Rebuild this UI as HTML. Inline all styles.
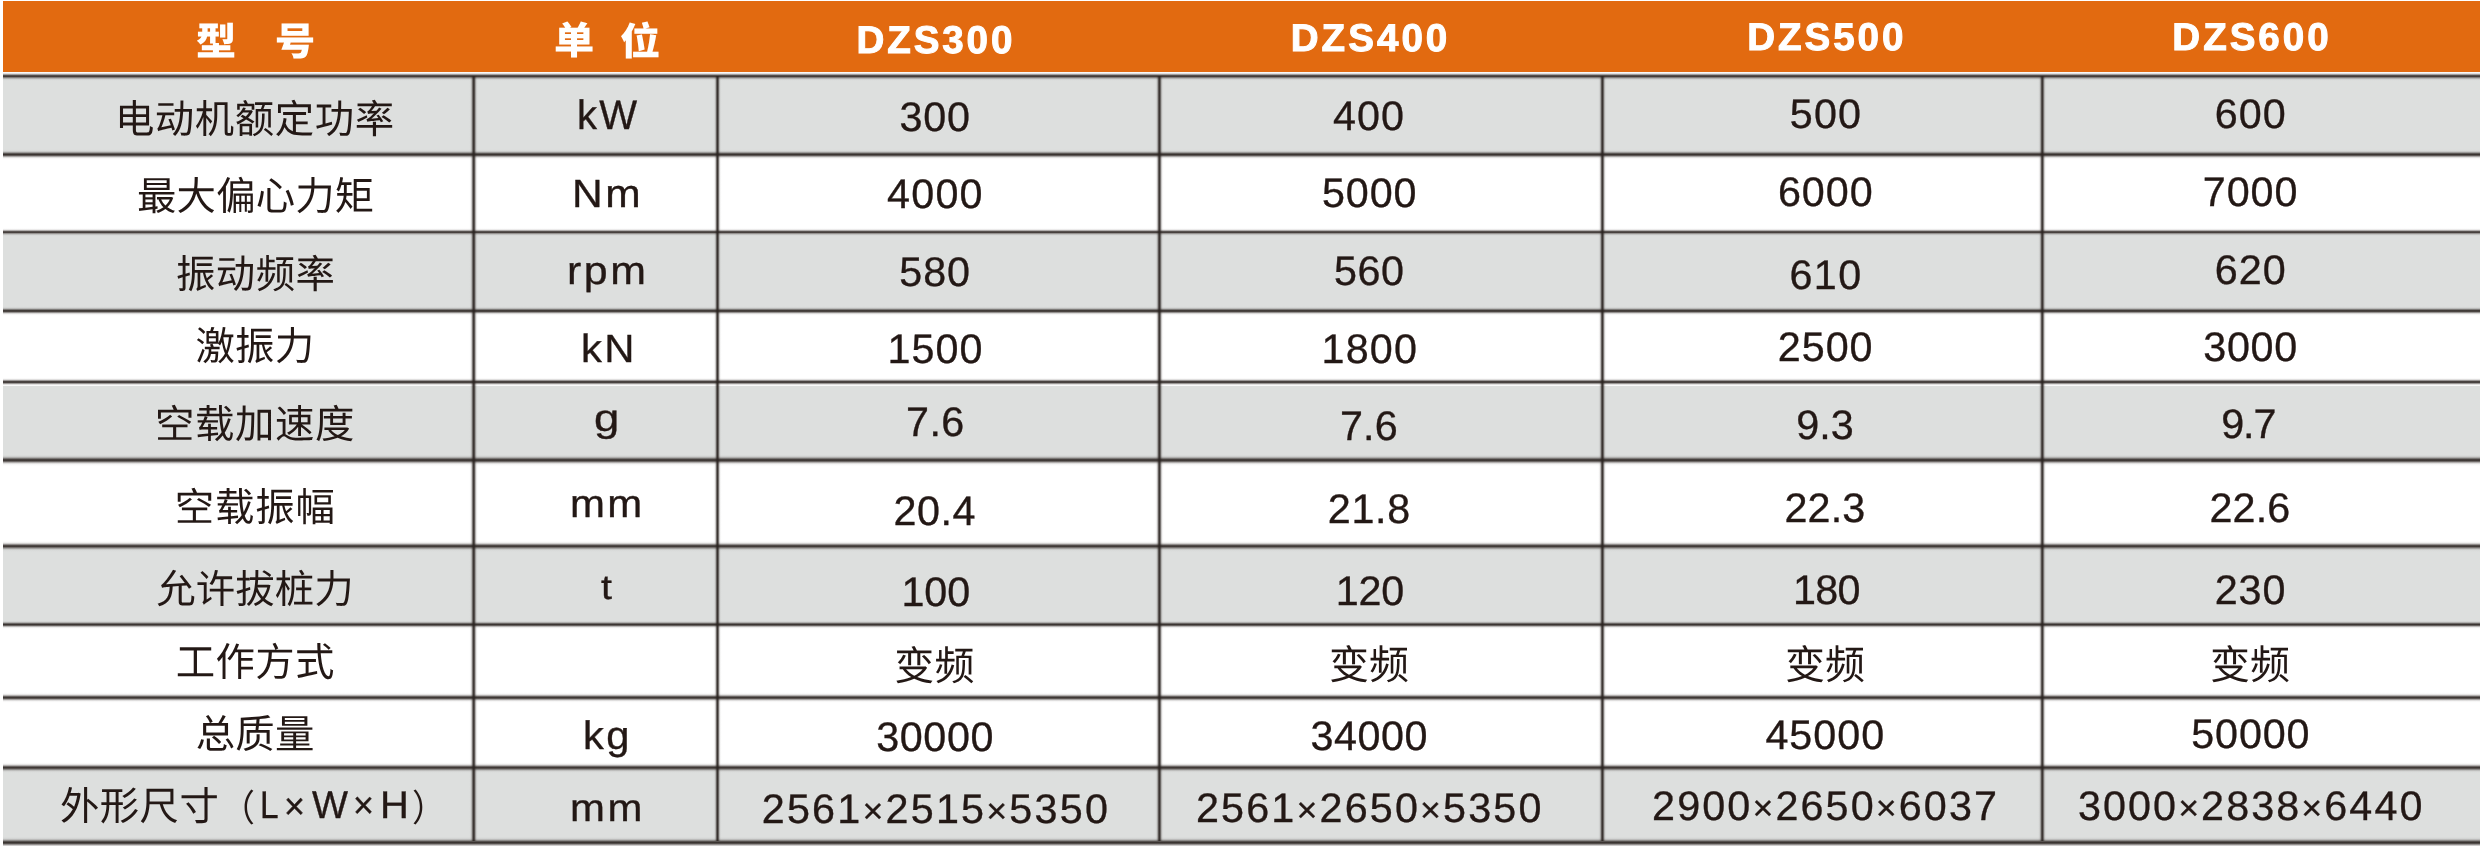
<!DOCTYPE html>
<html lang="zh-CN">
<head>
<meta charset="utf-8">
<style>
html,body{margin:0;padding:0;background:#fff;}
body{width:2480px;height:846px;position:relative;overflow:hidden;}
#tbl{position:absolute;left:0;top:0;width:2480px;height:846px;overflow:hidden;background:#fff;will-change:transform;}
.bg{position:absolute;left:3px;right:0;}
.hd{top:1px;height:70.8px;background:#e26a10;}
.gr{background:#dddfde;}
.hl{position:absolute;left:3px;right:0;}
.vl{position:absolute;top:75.5px;height:765.5px;}
.t{position:absolute;white-space:nowrap;line-height:1;color:#231815;text-rendering:geometricPrecision;-webkit-font-smoothing:antialiased;margin:0;padding:0;}
.c{font-family:"Liberation Sans","Noto Sans CJK SC",sans-serif;font-weight:400;}
.l{font-family:"Liberation Sans","Noto Sans CJK SC",sans-serif;font-weight:400;-webkit-text-stroke:0.35px #231815;}
.hc{font-family:"Liberation Sans","Noto Sans CJK SC",sans-serif;font-weight:900;color:#fff;}
.hl2{font-family:"Liberation Sans","Noto Sans CJK SC",sans-serif;font-weight:700;color:#fff;-webkit-text-stroke:1px #fff;}
.x{font-size:.865em;}
</style>
</head>
<body>
<div id="tbl">
<div class="bg hd"></div>
<div class="bg gr" style="top:77.70px;height:76.86px"></div>
<div class="bg gr" style="top:233.65px;height:77.31px"></div>
<div class="bg gr" style="top:385.80px;height:74.40px"></div>
<div class="bg gr" style="top:547.70px;height:76.90px"></div>
<div class="bg gr" style="top:769.15px;height:73.45px"></div>
<div class="hl" style="top:71px;height:11px;background:linear-gradient(to bottom,rgba(42,35,32,0.000) 0.20px,rgba(42,35,32,0.005) 0.70px,rgba(42,35,32,0.014) 1.20px,rgba(42,35,32,0.038) 1.70px,rgba(42,35,32,0.089) 2.20px,rgba(42,35,32,0.182) 2.70px,rgba(42,35,32,0.326) 3.20px,rgba(42,35,32,0.513) 3.70px,rgba(42,35,32,0.710) 4.20px,rgba(42,35,32,0.862) 4.70px,rgba(42,35,32,0.920) 5.20px,rgba(42,35,32,0.862) 5.70px,rgba(42,35,32,0.710) 6.20px,rgba(42,35,32,0.513) 6.70px,rgba(42,35,32,0.326) 7.20px,rgba(42,35,32,0.182) 7.70px,rgba(42,35,32,0.089) 8.20px,rgba(42,35,32,0.038) 8.70px,rgba(42,35,32,0.014) 9.20px,rgba(42,35,32,0.005) 9.70px,rgba(42,35,32,0.000) 10.20px)"></div>
<div class="hl" style="top:149px;height:11px;background:linear-gradient(to bottom,rgba(42,35,32,0.004) 0.56px,rgba(42,35,32,0.011) 1.06px,rgba(42,35,32,0.029) 1.56px,rgba(42,35,32,0.064) 2.06px,rgba(42,35,32,0.130) 2.56px,rgba(42,35,32,0.237) 3.06px,rgba(42,35,32,0.386) 3.56px,rgba(42,35,32,0.565) 4.06px,rgba(42,35,32,0.740) 4.56px,rgba(42,35,32,0.871) 5.06px,rgba(42,35,32,0.920) 5.56px,rgba(42,35,32,0.871) 6.06px,rgba(42,35,32,0.740) 6.56px,rgba(42,35,32,0.565) 7.06px,rgba(42,35,32,0.386) 7.56px,rgba(42,35,32,0.237) 8.06px,rgba(42,35,32,0.130) 8.56px,rgba(42,35,32,0.064) 9.06px,rgba(42,35,32,0.029) 9.56px,rgba(42,35,32,0.011) 10.06px,rgba(42,35,32,0.004) 10.56px)"></div>
<div class="hl" style="top:227px;height:11px;background:linear-gradient(to bottom,rgba(42,35,32,0.000) 0.15px,rgba(42,35,32,0.000) 0.65px,rgba(42,35,32,0.004) 1.15px,rgba(42,35,32,0.014) 1.65px,rgba(42,35,32,0.043) 2.15px,rgba(42,35,32,0.110) 2.65px,rgba(42,35,32,0.237) 3.15px,rgba(42,35,32,0.429) 3.65px,rgba(42,35,32,0.655) 4.15px,rgba(42,35,32,0.845) 4.65px,rgba(42,35,32,0.920) 5.15px,rgba(42,35,32,0.845) 5.65px,rgba(42,35,32,0.655) 6.15px,rgba(42,35,32,0.429) 6.65px,rgba(42,35,32,0.237) 7.15px,rgba(42,35,32,0.110) 7.65px,rgba(42,35,32,0.043) 8.15px,rgba(42,35,32,0.014) 8.65px,rgba(42,35,32,0.004) 9.15px,rgba(42,35,32,0.000) 9.65px,rgba(42,35,32,0.000) 10.15px)"></div>
<div class="hl" style="top:305px;height:11px;background:linear-gradient(to bottom,rgba(42,35,32,0.000) 0.96px,rgba(42,35,32,0.005) 1.46px,rgba(42,35,32,0.014) 1.96px,rgba(42,35,32,0.038) 2.46px,rgba(42,35,32,0.089) 2.96px,rgba(42,35,32,0.182) 3.46px,rgba(42,35,32,0.326) 3.96px,rgba(42,35,32,0.513) 4.46px,rgba(42,35,32,0.710) 4.96px,rgba(42,35,32,0.862) 5.46px,rgba(42,35,32,0.920) 5.96px,rgba(42,35,32,0.862) 6.46px,rgba(42,35,32,0.710) 6.96px,rgba(42,35,32,0.513) 7.46px,rgba(42,35,32,0.326) 7.96px,rgba(42,35,32,0.182) 8.46px,rgba(42,35,32,0.089) 8.96px,rgba(42,35,32,0.038) 9.46px,rgba(42,35,32,0.014) 9.96px,rgba(42,35,32,0.005) 10.46px,rgba(42,35,32,0.000) 10.96px)"></div>
<div class="hl" style="top:377px;height:11px;background:linear-gradient(to bottom,rgba(42,35,32,0.000) 0.00px,rgba(42,35,32,0.000) 0.50px,rgba(42,35,32,0.008) 1.00px,rgba(42,35,32,0.025) 1.50px,rgba(42,35,32,0.064) 2.00px,rgba(42,35,32,0.145) 2.50px,rgba(42,35,32,0.282) 3.00px,rgba(42,35,32,0.473) 3.50px,rgba(42,35,32,0.685) 4.00px,rgba(42,35,32,0.854) 4.50px,rgba(42,35,32,0.920) 5.00px,rgba(42,35,32,0.854) 5.50px,rgba(42,35,32,0.685) 6.00px,rgba(42,35,32,0.473) 6.50px,rgba(42,35,32,0.282) 7.00px,rgba(42,35,32,0.145) 7.50px,rgba(42,35,32,0.064) 8.00px,rgba(42,35,32,0.025) 8.50px,rgba(42,35,32,0.008) 9.00px,rgba(42,35,32,0.000) 9.50px,rgba(42,35,32,0.000) 10.00px)"></div>
<div class="hl" style="top:455px;height:11px;background:linear-gradient(to bottom,rgba(42,35,32,0.012) 0.20px,rgba(42,35,32,0.027) 0.70px,rgba(42,35,32,0.056) 1.20px,rgba(42,35,32,0.108) 1.70px,rgba(42,35,32,0.191) 2.20px,rgba(42,35,32,0.309) 2.70px,rgba(42,35,32,0.457) 3.20px,rgba(42,35,32,0.621) 3.70px,rgba(42,35,32,0.772) 4.20px,rgba(42,35,32,0.881) 4.70px,rgba(42,35,32,0.920) 5.20px,rgba(42,35,32,0.881) 5.70px,rgba(42,35,32,0.772) 6.20px,rgba(42,35,32,0.621) 6.70px,rgba(42,35,32,0.457) 7.20px,rgba(42,35,32,0.309) 7.70px,rgba(42,35,32,0.191) 8.20px,rgba(42,35,32,0.108) 8.70px,rgba(42,35,32,0.056) 9.20px,rgba(42,35,32,0.027) 9.70px,rgba(42,35,32,0.012) 10.20px)"></div>
<div class="hl" style="top:541px;height:11px;background:linear-gradient(to bottom,rgba(42,35,32,0.006) 0.20px,rgba(42,35,32,0.016) 0.70px,rgba(42,35,32,0.038) 1.20px,rgba(42,35,32,0.080) 1.70px,rgba(42,35,32,0.153) 2.20px,rgba(42,35,32,0.264) 2.70px,rgba(42,35,32,0.414) 3.20px,rgba(42,35,32,0.587) 3.70px,rgba(42,35,32,0.754) 4.20px,rgba(42,35,32,0.875) 4.70px,rgba(42,35,32,0.920) 5.20px,rgba(42,35,32,0.875) 5.70px,rgba(42,35,32,0.754) 6.20px,rgba(42,35,32,0.587) 6.70px,rgba(42,35,32,0.414) 7.20px,rgba(42,35,32,0.264) 7.70px,rgba(42,35,32,0.153) 8.20px,rgba(42,35,32,0.080) 8.70px,rgba(42,35,32,0.038) 9.20px,rgba(42,35,32,0.016) 9.70px,rgba(42,35,32,0.006) 10.20px)"></div>
<div class="hl" style="top:619px;height:11px;background:linear-gradient(to bottom,rgba(42,35,32,0.000) 0.60px,rgba(42,35,32,0.000) 1.10px,rgba(42,35,32,0.008) 1.60px,rgba(42,35,32,0.025) 2.10px,rgba(42,35,32,0.064) 2.60px,rgba(42,35,32,0.145) 3.10px,rgba(42,35,32,0.282) 3.60px,rgba(42,35,32,0.473) 4.10px,rgba(42,35,32,0.685) 4.60px,rgba(42,35,32,0.854) 5.10px,rgba(42,35,32,0.920) 5.60px,rgba(42,35,32,0.854) 6.10px,rgba(42,35,32,0.685) 6.60px,rgba(42,35,32,0.473) 7.10px,rgba(42,35,32,0.282) 7.60px,rgba(42,35,32,0.145) 8.10px,rgba(42,35,32,0.064) 8.60px,rgba(42,35,32,0.025) 9.10px,rgba(42,35,32,0.008) 9.60px,rgba(42,35,32,0.000) 10.10px,rgba(42,35,32,0.000) 10.60px)"></div>
<div class="hl" style="top:692px;height:11px;background:linear-gradient(to bottom,rgba(42,35,32,0.004) 0.60px,rgba(42,35,32,0.011) 1.10px,rgba(42,35,32,0.029) 1.60px,rgba(42,35,32,0.064) 2.10px,rgba(42,35,32,0.130) 2.60px,rgba(42,35,32,0.237) 3.10px,rgba(42,35,32,0.386) 3.60px,rgba(42,35,32,0.565) 4.10px,rgba(42,35,32,0.740) 4.60px,rgba(42,35,32,0.871) 5.10px,rgba(42,35,32,0.920) 5.60px,rgba(42,35,32,0.871) 6.10px,rgba(42,35,32,0.740) 6.60px,rgba(42,35,32,0.565) 7.10px,rgba(42,35,32,0.386) 7.60px,rgba(42,35,32,0.237) 8.10px,rgba(42,35,32,0.130) 8.60px,rgba(42,35,32,0.064) 9.10px,rgba(42,35,32,0.029) 9.60px,rgba(42,35,32,0.011) 10.10px,rgba(42,35,32,0.004) 10.60px)"></div>
<div class="hl" style="top:762px;height:11px;background:linear-gradient(to bottom,rgba(42,35,32,0.005) 0.65px,rgba(42,35,32,0.014) 1.15px,rgba(42,35,32,0.035) 1.65px,rgba(42,35,32,0.075) 2.15px,rgba(42,35,32,0.145) 2.65px,rgba(42,35,32,0.255) 3.15px,rgba(42,35,32,0.405) 3.65px,rgba(42,35,32,0.580) 4.15px,rgba(42,35,32,0.749) 4.65px,rgba(42,35,32,0.874) 5.15px,rgba(42,35,32,0.920) 5.65px,rgba(42,35,32,0.874) 6.15px,rgba(42,35,32,0.749) 6.65px,rgba(42,35,32,0.580) 7.15px,rgba(42,35,32,0.405) 7.65px,rgba(42,35,32,0.255) 8.15px,rgba(42,35,32,0.145) 8.65px,rgba(42,35,32,0.075) 9.15px,rgba(42,35,32,0.035) 9.65px,rgba(42,35,32,0.014) 10.15px,rgba(42,35,32,0.005) 10.65px)"></div>
<div class="hl" style="top:837px;height:9px;background:linear-gradient(to bottom,rgba(42,35,32,0.014) 0.60px,rgba(42,35,32,0.032) 1.10px,rgba(42,35,32,0.064) 1.60px,rgba(42,35,32,0.120) 2.10px,rgba(42,35,32,0.206) 2.60px,rgba(42,35,32,0.326) 3.10px,rgba(42,35,32,0.473) 3.60px,rgba(42,35,32,0.633) 4.10px,rgba(42,35,32,0.779) 4.60px,rgba(42,35,32,0.883) 5.10px,rgba(42,35,32,0.920) 5.60px,rgba(42,35,32,0.883) 6.10px,rgba(42,35,32,0.779) 6.60px,rgba(42,35,32,0.633) 7.10px,rgba(42,35,32,0.473) 7.60px,rgba(42,35,32,0.326) 8.10px,rgba(42,35,32,0.206) 8.60px)"></div>
<div class="vl" style="left:468px;width:11px;background:linear-gradient(to right,rgba(42,35,32,0.000) 0.70px,rgba(42,35,32,0.000) 1.20px,rgba(42,35,32,0.008) 1.70px,rgba(42,35,32,0.025) 2.20px,rgba(42,35,32,0.064) 2.70px,rgba(42,35,32,0.145) 3.20px,rgba(42,35,32,0.282) 3.70px,rgba(42,35,32,0.473) 4.20px,rgba(42,35,32,0.685) 4.70px,rgba(42,35,32,0.854) 5.20px,rgba(42,35,32,0.920) 5.70px,rgba(42,35,32,0.854) 6.20px,rgba(42,35,32,0.685) 6.70px,rgba(42,35,32,0.473) 7.20px,rgba(42,35,32,0.282) 7.70px,rgba(42,35,32,0.145) 8.20px,rgba(42,35,32,0.064) 8.70px,rgba(42,35,32,0.025) 9.20px,rgba(42,35,32,0.008) 9.70px,rgba(42,35,32,0.000) 10.20px,rgba(42,35,32,0.000) 10.70px)"></div>
<div class="vl" style="left:712px;width:11px;background:linear-gradient(to right,rgba(42,35,32,0.000) 0.50px,rgba(42,35,32,0.000) 1.00px,rgba(42,35,32,0.004) 1.50px,rgba(42,35,32,0.014) 2.00px,rgba(42,35,32,0.043) 2.50px,rgba(42,35,32,0.110) 3.00px,rgba(42,35,32,0.237) 3.50px,rgba(42,35,32,0.429) 4.00px,rgba(42,35,32,0.655) 4.50px,rgba(42,35,32,0.845) 5.00px,rgba(42,35,32,0.920) 5.50px,rgba(42,35,32,0.845) 6.00px,rgba(42,35,32,0.655) 6.50px,rgba(42,35,32,0.429) 7.00px,rgba(42,35,32,0.237) 7.50px,rgba(42,35,32,0.110) 8.00px,rgba(42,35,32,0.043) 8.50px,rgba(42,35,32,0.014) 9.00px,rgba(42,35,32,0.004) 9.50px,rgba(42,35,32,0.000) 10.00px,rgba(42,35,32,0.000) 10.50px)"></div>
<div class="vl" style="left:1154px;width:11px;background:linear-gradient(to right,rgba(42,35,32,0.000) 0.40px,rgba(42,35,32,0.000) 0.90px,rgba(42,35,32,0.007) 1.40px,rgba(42,35,32,0.022) 1.90px,rgba(42,35,32,0.059) 2.40px,rgba(42,35,32,0.136) 2.90px,rgba(42,35,32,0.271) 3.40px,rgba(42,35,32,0.463) 3.90px,rgba(42,35,32,0.678) 4.40px,rgba(42,35,32,0.852) 4.90px,rgba(42,35,32,0.920) 5.40px,rgba(42,35,32,0.852) 5.90px,rgba(42,35,32,0.678) 6.40px,rgba(42,35,32,0.463) 6.90px,rgba(42,35,32,0.271) 7.40px,rgba(42,35,32,0.136) 7.90px,rgba(42,35,32,0.059) 8.40px,rgba(42,35,32,0.022) 8.90px,rgba(42,35,32,0.007) 9.40px,rgba(42,35,32,0.000) 9.90px,rgba(42,35,32,0.000) 10.40px)"></div>
<div class="vl" style="left:1597px;width:11px;background:linear-gradient(to right,rgba(42,35,32,0.000) 0.40px,rgba(42,35,32,0.000) 0.90px,rgba(42,35,32,0.006) 1.40px,rgba(42,35,32,0.019) 1.90px,rgba(42,35,32,0.053) 2.40px,rgba(42,35,32,0.128) 2.90px,rgba(42,35,32,0.260) 3.40px,rgba(42,35,32,0.452) 3.90px,rgba(42,35,32,0.671) 4.40px,rgba(42,35,32,0.850) 4.90px,rgba(42,35,32,0.920) 5.40px,rgba(42,35,32,0.850) 5.90px,rgba(42,35,32,0.671) 6.40px,rgba(42,35,32,0.452) 6.90px,rgba(42,35,32,0.260) 7.40px,rgba(42,35,32,0.128) 7.90px,rgba(42,35,32,0.053) 8.40px,rgba(42,35,32,0.019) 8.90px,rgba(42,35,32,0.006) 9.40px,rgba(42,35,32,0.000) 9.90px,rgba(42,35,32,0.000) 10.40px)"></div>
<div class="vl" style="left:2037px;width:11px;background:linear-gradient(to right,rgba(42,35,32,0.000) 0.30px,rgba(42,35,32,0.000) 0.80px,rgba(42,35,32,0.006) 1.30px,rgba(42,35,32,0.019) 1.80px,rgba(42,35,32,0.053) 2.30px,rgba(42,35,32,0.128) 2.80px,rgba(42,35,32,0.260) 3.30px,rgba(42,35,32,0.452) 3.80px,rgba(42,35,32,0.671) 4.30px,rgba(42,35,32,0.850) 4.80px,rgba(42,35,32,0.920) 5.30px,rgba(42,35,32,0.850) 5.80px,rgba(42,35,32,0.671) 6.30px,rgba(42,35,32,0.452) 6.80px,rgba(42,35,32,0.260) 7.30px,rgba(42,35,32,0.128) 7.80px,rgba(42,35,32,0.053) 8.30px,rgba(42,35,32,0.019) 8.80px,rgba(42,35,32,0.006) 9.30px,rgba(42,35,32,0.000) 9.80px,rgba(42,35,32,0.000) 10.30px)"></div>
<div class="row" id="row-h">
<div class="cell"><div id="h1a" class="t hc" style="left:196.35px;top:24.00px;font-size:38.30px;transform:scaleX(1.0500);transform-origin:0 0;">型</div> <div id="h1b" class="t hc" style="left:275.20px;top:24.00px;font-size:38.30px;transform:scaleX(1.0500);transform-origin:0 0;">号</div></div>
<div class="cell"><div id="h2a" class="t hc" style="left:553.94px;top:23.00px;font-size:38.30px;transform:scaleX(1.0500);transform-origin:0 0;">单</div> <div id="h2b" class="t hc" style="left:620.23px;top:24.00px;font-size:38.30px;transform:scaleX(1.0500);transform-origin:0 0;">位</div></div>
<div id="h3" class="t hl2" style="left:856.61px;top:22.00px;font-size:38.60px;letter-spacing:2.84px;">DZS300</div>
<div id="h4" class="t hl2" style="left:1290.69px;top:20.00px;font-size:38.60px;letter-spacing:3.02px;">DZS400</div>
<div id="h5" class="t hl2" style="left:1747.13px;top:19.00px;font-size:38.60px;letter-spacing:2.96px;">DZS500</div>
<div id="h6" class="t hl2" style="left:2172.37px;top:19.00px;font-size:38.60px;letter-spacing:2.95px;">DZS600</div>
</div>
<div class="row" id="row-r1">
<div id="r1c1" class="t c" style="left:114.89px;top:101.00px;font-size:39.40px;letter-spacing:0.58px;">电动机额定功率</div>
<div id="r1c2" class="t l" style="left:577.30px;top:95.00px;font-size:41.06px;letter-spacing:2.30px;transform:scaleX(0.9754);transform-origin:0 0;">kW</div>
<div id="r1c3" class="t l" style="left:899.40px;top:97.00px;font-size:41.30px;letter-spacing:0.87px;">300</div>
<div id="r1c4" class="t l" style="left:1333.02px;top:96.00px;font-size:41.30px;letter-spacing:1.05px;">400</div>
<div id="r1c5" class="t l" style="left:1789.74px;top:94.00px;font-size:41.30px;letter-spacing:1.20px;">500</div>
<div id="r1c6" class="t l" style="left:2214.76px;top:94.00px;font-size:41.30px;letter-spacing:1.01px;">600</div>
</div>
<div class="row" id="row-r2">
<div id="r2c1" class="t c" style="left:136.97px;top:178.00px;font-size:39.40px;letter-spacing:0.19px;">最大偏心力矩</div>
<div id="r2c2" class="t l" style="left:572.49px;top:175.00px;font-size:39.29px;letter-spacing:2.30px;transform:scaleX(1.0809);transform-origin:0 0;">Nm</div>
<div id="r2c3" class="t l" style="left:887.08px;top:174.00px;font-size:41.30px;letter-spacing:1.21px;">4000</div>
<div id="r2c4" class="t l" style="left:1321.99px;top:173.00px;font-size:41.30px;letter-spacing:0.88px;">5000</div>
<div id="r2c5" class="t l" style="left:1777.91px;top:172.00px;font-size:41.30px;letter-spacing:0.97px;">6000</div>
<div id="r2c6" class="t l" style="left:2202.83px;top:172.00px;font-size:41.30px;letter-spacing:0.90px;">7000</div>
</div>
<div class="row" id="row-r3">
<div id="r3c1" class="t c" style="left:175.94px;top:256.00px;font-size:39.40px;letter-spacing:0.46px;">振动频率</div>
<div id="r3c2" class="t l" style="left:567.05px;top:252.00px;font-size:39.33px;letter-spacing:2.30px;transform:scaleX(1.0902);transform-origin:0 0;">rpm</div>
<div id="r3c3" class="t l" style="left:899.26px;top:252.00px;font-size:41.30px;letter-spacing:0.91px;">580</div>
<div id="r3c4" class="t l" style="left:1334.12px;top:251.00px;font-size:41.30px;letter-spacing:0.51px;">560</div>
<div id="r3c5" class="t l" style="left:1789.58px;top:255.00px;font-size:41.30px;letter-spacing:1.31px;">610</div>
<div id="r3c6" class="t l" style="left:2214.76px;top:250.00px;font-size:41.30px;letter-spacing:1.01px;">620</div>
</div>
<div class="row" id="row-r4">
<div id="r4c1" class="t c" style="left:195.44px;top:328.00px;font-size:39.40px;letter-spacing:0.21px;">激振力</div>
<div id="r4c2" class="t l" style="left:580.94px;top:330.00px;font-size:39.29px;letter-spacing:2.30px;transform:scaleX(1.0643);transform-origin:0 0;">kN</div>
<div id="r4c3" class="t l" style="left:887.46px;top:329.00px;font-size:41.30px;letter-spacing:1.02px;">1500</div>
<div id="r4c4" class="t l" style="left:1321.60px;top:329.00px;font-size:41.30px;letter-spacing:1.16px;">1800</div>
<div id="r4c5" class="t l" style="left:1777.84px;top:327.00px;font-size:41.30px;letter-spacing:0.96px;">2500</div>
<div id="r4c6" class="t l" style="left:2203.25px;top:327.00px;font-size:41.30px;letter-spacing:0.67px;">3000</div>
</div>
<div class="row" id="row-r5">
<div id="r5c1" class="t c" style="left:154.93px;top:406.00px;font-size:39.40px;letter-spacing:0.66px;">空载加速度</div>
<div id="r5c2" class="t l" style="left:593.88px;top:400.00px;font-size:38.40px;transform:scaleX(1.1847);transform-origin:0 0;">g</div>
<div id="r5c3" class="t l" style="left:905.97px;top:402.00px;font-size:41.30px;letter-spacing:0.44px;">7.6</div>
<div id="r5c4" class="t l" style="left:1339.98px;top:406.00px;font-size:41.30px;letter-spacing:0.13px;">7.6</div>
<div id="r5c5" class="t l" style="left:1796.14px;top:405.00px;font-size:41.30px;letter-spacing:0.15px;">9.3</div>
<div id="r5c6" class="t l" style="left:2221.26px;top:404.00px;font-size:41.30px;letter-spacing:-1.11px;">9.7</div>
</div>
<div class="row" id="row-r6">
<div id="r6c1" class="t c" style="left:174.81px;top:489.00px;font-size:39.40px;letter-spacing:0.82px;">空载振幅</div>
<div id="r6c2" class="t l" style="left:570.09px;top:485.00px;font-size:39.28px;letter-spacing:2.30px;transform:scaleX(1.0674);transform-origin:0 0;">mm</div>
<div id="r6c3" class="t l" style="left:893.55px;top:491.00px;font-size:41.30px;letter-spacing:0.54px;">20.4</div>
<div id="r6c4" class="t l" style="left:1327.75px;top:489.00px;font-size:41.30px;letter-spacing:0.71px;">21.8</div>
<div id="r6c5" class="t l" style="left:1784.53px;top:488.00px;font-size:41.30px;letter-spacing:0.14px;">22.3</div>
<div id="r6c6" class="t l" style="left:2209.52px;top:488.00px;font-size:41.30px;letter-spacing:0.13px;">22.6</div>
</div>
<div class="row" id="row-r7">
<div id="r7c1" class="t c" style="left:156.18px;top:571.00px;font-size:39.40px;letter-spacing:0.13px;">允许拔桩力</div>
<div id="r7c2" class="t l" style="left:601.07px;top:571.00px;font-size:34.60px;transform:scaleX(1.1419);transform-origin:0 0;">t</div>
<div id="r7c3" class="t l" style="left:901.42px;top:572.00px;font-size:41.30px;letter-spacing:-0.09px;">100</div>
<div id="r7c4" class="t l" style="left:1335.78px;top:571.00px;font-size:41.30px;letter-spacing:-0.26px;">120</div>
<div id="r7c5" class="t l" style="left:1792.91px;top:570.00px;font-size:41.30px;letter-spacing:-0.70px;">180</div>
<div id="r7c6" class="t l" style="left:2214.64px;top:570.00px;font-size:41.30px;letter-spacing:1.02px;">230</div>
</div>
<div class="row" id="row-r8">
<div id="r8c1" class="t c" style="left:175.79px;top:644.00px;font-size:39.40px;letter-spacing:0.36px;">工作方式</div>
<div id="r8c3" class="t c" style="left:894.33px;top:647.00px;font-size:40.00px;letter-spacing:0.09px;">变频</div>
<div id="r8c4" class="t c" style="left:1328.93px;top:646.00px;font-size:40.00px;letter-spacing:-0.03px;">变频</div>
<div id="r8c5" class="t c" style="left:1784.99px;top:646.00px;font-size:40.00px;letter-spacing:0.08px;">变频</div>
<div id="r8c6" class="t c" style="left:2209.88px;top:646.00px;font-size:40.00px;letter-spacing:0.20px;">变频</div>
</div>
<div class="row" id="row-r9">
<div id="r9c1" class="t c" style="left:195.81px;top:716.00px;font-size:39.40px;letter-spacing:0.18px;">总质量</div>
<div id="r9c2" class="t l" style="left:582.73px;top:717.00px;font-size:39.61px;letter-spacing:2.30px;transform:scaleX(1.0536);transform-origin:0 0;">kg</div>
<div id="r9c3" class="t l" style="left:876.16px;top:717.00px;font-size:41.30px;letter-spacing:0.63px;">30000</div>
<div id="r9c4" class="t l" style="left:1310.39px;top:716.00px;font-size:41.30px;letter-spacing:0.58px;">34000</div>
<div id="r9c5" class="t l" style="left:1765.42px;top:715.00px;font-size:41.30px;letter-spacing:0.99px;">45000</div>
<div id="r9c6" class="t l" style="left:2191.29px;top:714.00px;font-size:41.30px;letter-spacing:0.85px;">50000</div>
</div>
<div class="row" id="row-r10">
<div class="cell"><div id="r10c1a" class="t c" style="left:60.10px;top:788.00px;font-size:39.40px;letter-spacing:0.37px;">外形尺寸</div><div id="r10c1b" class="t c" style="left:220.53px;top:791.00px;font-size:36.82px;transform:scaleX(0.9208);transform-origin:0 0;">（</div><div id="r10c1c" class="t l" style="left:259.83px;top:787.00px;font-size:38.64px;transform:scaleX(0.8649);transform-origin:0 0;">L</div><div id="r10c1d" class="t l" style="left:283.97px;top:789.00px;font-size:37.81px;transform:scaleX(0.9515);transform-origin:0 0;">×</div><div id="r10c1e" class="t l" style="left:311.69px;top:787.00px;font-size:38.76px;transform:scaleX(0.9835);transform-origin:0 0;">W</div><div id="r10c1f" class="t l" style="left:352.68px;top:787.00px;font-size:38.02px;transform:scaleX(0.9439);transform-origin:0 0;">×</div><div id="r10c1g" class="t l" style="left:379.98px;top:787.00px;font-size:38.68px;transform:scaleX(1.0331);transform-origin:0 0;">H</div><div id="r10c1h" class="t c" style="left:412.09px;top:791.00px;font-size:36.95px;transform:scaleX(0.9153);transform-origin:0 0;">）</div></div>
<div id="r10c2" class="t l" style="left:569.93px;top:790.00px;font-size:38.79px;letter-spacing:2.30px;transform:scaleX(1.0803);transform-origin:0 0;">mm</div>
<div id="r10c3" class="t l" style="left:761.78px;top:789.00px;font-size:41.30px;letter-spacing:2.21px;">2561<span class='x'>×</span>2515<span class='x'>×</span>5350</div>
<div id="r10c4" class="t l" style="left:1195.91px;top:788.00px;font-size:41.30px;letter-spacing:2.17px;">2561<span class='x'>×</span>2650<span class='x'>×</span>5350</div>
<div id="r10c5" class="t l" style="left:1652.09px;top:786.00px;font-size:41.30px;letter-spacing:2.12px;">2900<span class='x'>×</span>2650<span class='x'>×</span>6037</div>
<div id="r10c6" class="t l" style="left:2077.91px;top:786.00px;font-size:41.30px;letter-spacing:2.09px;">3000<span class='x'>×</span>2838<span class='x'>×</span>6440</div>
</div>
</div>
</body>
</html>
